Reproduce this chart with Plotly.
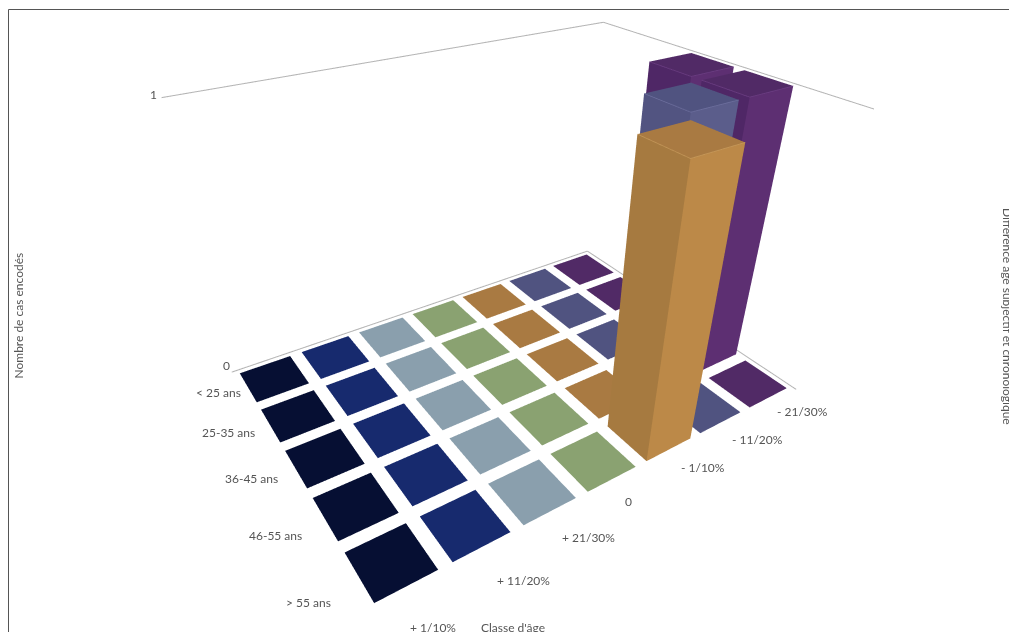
import plotly.graph_objects as go

ages = ["> 55 ans", "46-55 ans", "36-45 ans", "25-35 ans", "< 25 ans"]
diffs = ["+ 1/10%", "+ 11/20%", "+ 21/30%", "0", "- 1/10%", "- 11/20%", "- 21/30%"]
z_ticks = [0, 1]
values = [
    [0, 0, 0, 0, 1, 0, 0],
    [0, 0, 0, 0, 0, 1, 1],
    [0, 0, 0, 0, 0, 0, 1],
    [0, 0, 0, 0, 0, 0, 0],
    [0, 0, 0, 0, 0, 0, 0],
]
top_colors = ["#060f33", "#172a6e", "#8a9fad", "#8aa271", "#a97a42", "#505380", "#512a66"]
left_colors = ["#060f33", "#172a6e", "#8a9fad", "#8aa271", "#a67a40", "#525481", "#4f2766"]
right_colors = ["#060f33", "#172a6e", "#8a9fad", "#8aa271", "#bc8948", "#5b5d8b", "#5d2f72"]
edge_colors = ["#060f33", "#172a6e", "#8a9fad", "#8aa271", "#c79a5c", "#6f71a0", "#6d3f84"]

W, H = 1009, 632
ex, ey, ez, cx, cy, ay, az, h = -0.719, -1.082, 0.745, -0.12, -0.163, 0.723, 0.617, 0.404

# pixel offsets of the tick labels from the edge of the floor
diff_shift = [(-3, -35), (9, -28), (5, -21), (6, -18), (5, -14), (4, -13), (1, -10)]
age_shift = [(-18, -22), (-14, -13), (-9, -7), (-7, -4), (1, -3)]
z_shift = [(-5, 7), (-8, 3)]

X, Y, Z, I, J, K, FC = [], [], [], [], [], [], []
def quad(pts, color):
    n = len(X)
    for a_, b_, c_ in pts:
        X.append(a_); Y.append(b_); Z.append(c_)
    I.extend([n, n]); J.extend([n + 1, n + 2]); K.extend([n + 2, n + 3])
    FC.extend([color, color])

fig = go.Figure()
for a, row in enumerate(values):
    for d, v in enumerate(row):
        x0, x1, y0, y1 = d - h, d + h, a - h, a + h
        quad([(x0, y0, v), (x1, y0, v), (x1, y1, v), (x0, y1, v)], top_colors[d])
        if v > 0:
            quad([(x0, y0, 0), (x1, y0, 0), (x1, y0, v), (x0, y0, v)], right_colors[d])
            quad([(x0, y0, 0), (x0, y1, 0), (x0, y1, v), (x0, y0, v)], left_colors[d])
            fig.add_trace(go.Scatter3d(x=[x0, x0, x1], y=[y1, y0, y0], z=[v, v, v], mode="lines",
                                       line=dict(color=edge_colors[d], width=1.5), hoverinfo="skip"))
fig.add_trace(go.Mesh3d(x=X, y=Y, z=Z, i=I, j=J, k=K, facecolor=FC, flatshading=True,
                        lighting=dict(ambient=1, diffuse=0, specular=0, fresnel=0), hoverinfo="skip"))
xr = [-0.5, 6.5]; yr = [-0.5, 4.5]; zr = [0, 1]
eps = 0.001
for z in z_ticks:
    fig.add_trace(go.Scatter3d(x=[xr[0], xr[1]], y=[yr[1], yr[1]], z=[z, z], mode="lines",
                               line=dict(color="#b4b4b4", width=2), hoverinfo="skip"))
    fig.add_trace(go.Scatter3d(x=[xr[1], xr[1]], y=[yr[1], yr[0]], z=[z, z], mode="lines",
                               line=dict(color="#b4b4b4", width=2), hoverinfo="skip"))
font = dict(family="Lato", size=12, color="#555555")
ann3d = []
for d, t in enumerate(diffs):
    ann3d.append(dict(x=d, y=yr[0], z=0, text=t, showarrow=False, font=font, xanchor="left",
                      xshift=diff_shift[d][0], yshift=diff_shift[d][1]))
for a, t in enumerate(ages):
    ann3d.append(dict(x=xr[0], y=a, z=0, text=t, showarrow=False, font=font, xanchor="right",
                      xshift=age_shift[a][0], yshift=age_shift[a][1]))
for i, z in enumerate(z_ticks):
    ann3d.append(dict(x=xr[0], y=yr[1], z=z, text=str(z), showarrow=False, font=font,
                      xshift=z_shift[i][0], yshift=z_shift[i][1]))
ax = dict(visible=False)
fig.update_layout(
    width=W, height=H,
    margin=dict(l=0, r=0, t=0, b=0), showlegend=False, paper_bgcolor="white",
    scene=dict(domain=dict(x=[0, 1], y=[0, 1]),
               xaxis=dict(range=[xr[0] - eps, xr[1] + eps], **ax),
               yaxis=dict(range=[yr[0] - eps, yr[1] + eps], **ax),
               zaxis=dict(range=[zr[0] - eps, zr[1] + eps], **ax),
               aspectmode="manual", aspectratio=dict(x=1, y=ay, z=az),
               camera=dict(eye=dict(x=ex, y=ey, z=ez), center=dict(x=cx, y=cy, z=0), up=dict(x=0, y=0, z=1)),
               annotations=ann3d),
    shapes=[dict(type="line", xref="paper", yref="paper", x0=8.5/W, x1=8.5/W, y0=0, y1=1-9.5/H, line=dict(color="#555555", width=1)),
            dict(type="line", xref="paper", yref="paper", x0=8.5/W, x1=1, y0=1-9.5/H, y1=1-9.5/H, line=dict(color="#555555", width=1))],
    annotations=[
        dict(text="Classe d'âge", x=513/W, y=1-627/H, xref="paper", yref="paper", showarrow=False, font=font, xanchor="center", yanchor="middle"),
        dict(text="Nombre de cas encodés", x=17.5/W, y=1-316/H, xref="paper", yref="paper", showarrow=False, textangle=-90, font=font, xanchor="center", yanchor="middle"),
        dict(text="Différence âge subjectif et chronologique", x=1008/W, y=1-316/H, xref="paper", yref="paper", showarrow=False, textangle=90, font=font, xanchor="center", yanchor="middle"),
    ])
fig.write_html("out.html", config={"displayModeBar": False},
               post_script="document.body.style.margin='0';document.body.style.overflow='hidden';")
